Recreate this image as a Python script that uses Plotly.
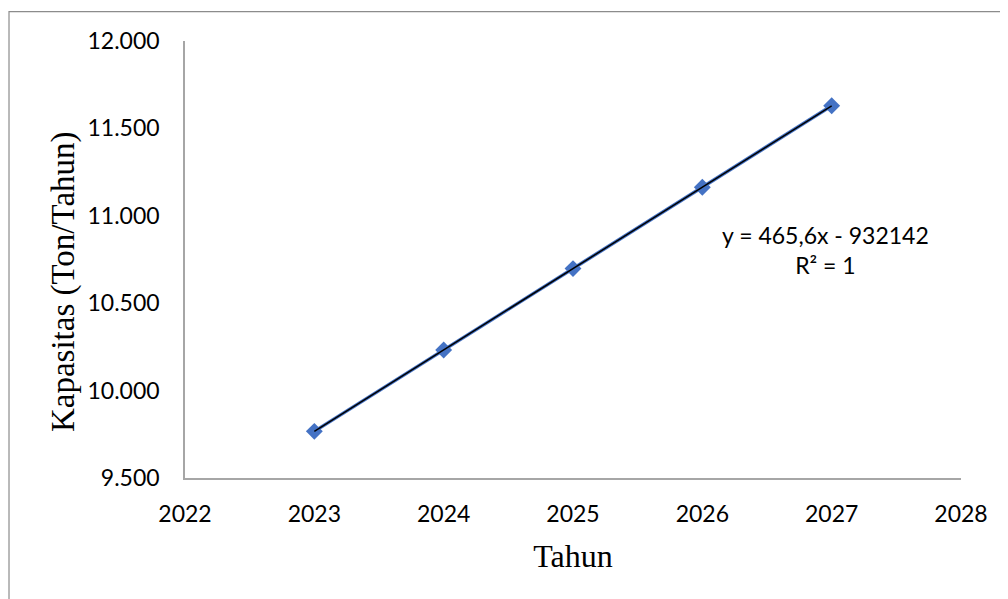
import numpy as np
import plotly.graph_objects as go

years = [2023, 2024, 2025, 2026, 2027]
capacity = [9766.8, 10232.4, 10698.0, 11163.6, 11629.2]
x_ticks = [2022, 2023, 2024, 2025, 2026, 2027, 2028]
y_ticks = [9500, 10000, 10500, 11000, 11500, 12000]
y_tick_text = ["9.500", "10.000", "10.500", "11.000", "11.500", "12.000"]
equation_text = "y = 465,6x - 932142<br>R² = 1"
x_title = "Tahun"
y_title = "Kapasitas (Ton/Tahun)"

slope, intercept = np.polyfit(years, capacity, 1)
trend = [slope * x + intercept for x in years]

fig = go.Figure()
fig.add_trace(go.Scatter(
    x=years, y=capacity, mode="lines+markers",
    line=dict(color="#4472C4", width=3.5),
    marker=dict(symbol="diamond", size=13, color="#4472C4"),
    showlegend=False,
))
fig.add_trace(go.Scatter(
    x=years, y=trend, mode="lines",
    line=dict(color="#000000", width=1.5),
    showlegend=False,
))

fig.add_annotation(
    x=2026.95, y=10807, xref="x", yref="y", text=equation_text,
    showarrow=False, align="center",
    font=dict(family="Lato", size=23, color="#000000"),
)
fig.add_annotation(
    x=-0.1572, y=0.4485, xref="paper", yref="paper", text=y_title,
    textangle=-90, showarrow=False, xanchor="center", yanchor="middle",
    font=dict(family="Liberation Serif", size=33, color="#000000"),
)

fig.add_shape(type="rect", xref="paper", yref="paper",
              x0=-0.2268, x1=2.0, y0=-2.0, y1=1.067,
              line=dict(color="#8C8C8C", width=1.2), fillcolor="rgba(0,0,0,0)")

fig.update_layout(
    width=1000, height=591,
    margin=dict(l=177, r=47, t=33, b=121),
    paper_bgcolor="white", plot_bgcolor="white",
    font=dict(family="Lato", size=23, color="#000000"),
)
fig.update_xaxes(
    range=[2022, 2028], tickvals=x_ticks, ticktext=[str(v) for v in x_ticks],
    showgrid=False, zeroline=False, showline=True, linecolor="#A6A6A6", linewidth=1.5,
    ticks="", ticklabelstandoff=15,
    title=dict(text=x_title, font=dict(family="Liberation Serif", size=32), standoff=18),
)
fig.update_yaxes(
    range=[9500, 12000], tickvals=y_ticks, ticktext=y_tick_text,
    showgrid=False, zeroline=False, showline=True, linecolor="#A6A6A6", linewidth=1.5,
    ticks="", ticklabelstandoff=19,
)

fig.write_html("out.html")
